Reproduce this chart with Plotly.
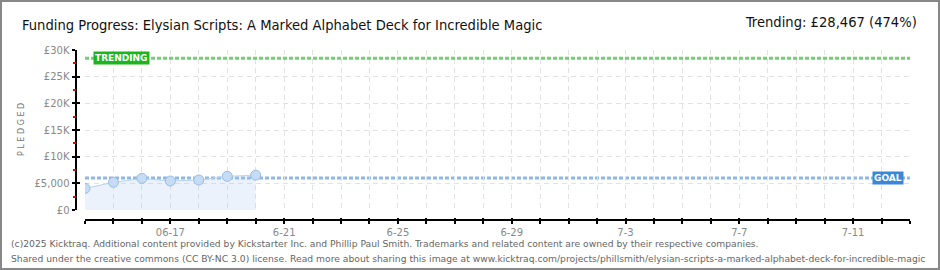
import plotly.graph_objects as go
import pandas as pd

# ---- data ----
dates = ["2025-06-14", "2025-06-15", "2025-06-16", "2025-06-17", "2025-06-18", "2025-06-19", "2025-06-20"]
pledged = [4060, 5180, 5930, 5440, 5625, 6310, 6530]
goal = 6006
trending = 28467
range_start = "2025-06-14"
range_end = "2025-07-13"
label_dates = ["2025-06-17", "2025-06-21", "2025-06-25", "2025-06-29", "2025-07-03", "2025-07-07", "2025-07-11"]
label_text = ["06-17", "6-21", "6-25", "6-29", "7-3", "7-7", "7-11"]
y_ticks = [0, 5000, 10000, 15000, 20000, 25000, 30000]
y_labels = ["£0", "£5,000", "£10K", "£15K", "£20K", "£25K", "£30K"]
y_minor = [2500, 7500, 12500, 17500, 22500, 27500]

title = "Funding Progress: Elysian Scripts: A Marked Alphabet Deck for Incredible Magic"
trend_text = "Trending: £28,467 (474%)"
footer1 = ("(c)2025 Kicktraq. Additional content provided by Kickstarter Inc. and Phillip Paul Smith. "
           "Trademarks and related content are owned by their respective companies.")
footer2 = ("Shared under the creative commons (CC BY-NC 3.0) license. Read more about sharing this image at "
           "www.kicktraq.com/projects/phillsmith/elysian-scripts-a-marked-alphabet-deck-for-incredible-magic")

# ---- geometry helpers (page pixels -> paper) ----
W, H = 940, 270
ML, MR, MT, MB = 70, 30, 45, 40
PW, PH = W - ML - MR, H - MT - MB
def px(x):
    return (x - ML) / PW
def py(y):
    return (H - MB - y) / PH

daily = pd.date_range(range_start, range_end, freq="D")
lab = dict(zip(pd.to_datetime(label_dates), label_text))
tickvals = list(daily)
ticktext = [lab.get(d, "") for d in daily]

TITLE_FONT = "DejaVu Sans Condensed, sans-serif"
SMALL_FONT = "DejaVu Sans, Verdana, sans-serif"

fig = go.Figure()

fig.add_trace(go.Scatter(
    x=dates, y=pledged, mode="lines+markers",
    line=dict(color="#b9d3f0", width=1),
    fill="tozeroy", fillcolor="rgba(175,205,242,0.25)",
    marker=dict(size=10, color="#c6dcf4", line=dict(color="#98bce6", width=1)),
    hoverinfo="x+y", showlegend=False, xaxis="x", yaxis="y",
))

# trending & goal lines
fig.add_shape(type="line", xref="x domain", yref="y", x0=0, x1=1, y0=trending, y1=trending,
              line=dict(color="#72cf72", width=3, dash="4px,2px"), layer="above")
fig.add_shape(type="line", xref="x domain", yref="y", x0=0, x1=1, y0=goal, y1=goal,
              line=dict(color="#8db7e5", width=3, dash="4px,2px"), layer="below")

# labels on lines
fig.add_annotation(xref="x domain", yref="y", x=(93 - 85) / 825, y=trending, xanchor="left", yanchor="middle",
                   text="<b>TRENDING</b>", showarrow=False, bgcolor="#1db51d", borderpad=1,
                   font=dict(family=SMALL_FONT, size=9, color="white"))
fig.add_annotation(xref="x domain", yref="y", x=(904 - 85) / 825, y=goal, xanchor="right", yanchor="middle",
                   text="<b>GOAL</b>", showarrow=False, bgcolor="#3a87d8", borderpad=1,
                   font=dict(family=SMALL_FONT, size=9, color="white"))

# title texts
fig.add_annotation(xref="paper", yref="paper", x=px(20), y=py(24), xanchor="left", yanchor="middle",
                   text=title, showarrow=False, font=dict(family=TITLE_FONT, size=14.6, color="#111"))
fig.add_annotation(xref="paper", yref="paper", x=px(919), y=py(22), xanchor="right", yanchor="middle",
                   text=trend_text, showarrow=False, font=dict(family=TITLE_FONT, size=14.6, color="#111"))

# y axis title
fig.add_annotation(xref="paper", yref="paper", x=px(21), y=py(130), xanchor="center", yanchor="middle",
                   text="P L E D G E D", textangle=-90, showarrow=False,
                   font=dict(family=SMALL_FONT, size=8, color="#777"))

# footer
fig.add_annotation(xref="paper", yref="paper", x=px(9), y=py(243), xanchor="left", yanchor="middle",
                   text=footer1, showarrow=False, font=dict(family=SMALL_FONT, size=9.2, color="#666"))
fig.add_annotation(xref="paper", yref="paper", x=px(9), y=py(258), xanchor="left", yanchor="middle",
                   text=footer2, showarrow=False, font=dict(family=SMALL_FONT, size=9.2, color="#666"))

# border
fig.add_shape(type="rect", xref="paper", yref="paper", x0=px(1), x1=px(939), y0=py(1), y1=py(269),
              line=dict(color="#888", width=2), fillcolor="rgba(0,0,0,0)", layer="above")

grid = dict(showgrid=True, gridcolor="#e2e2e2", gridwidth=1, griddash="5px,4px")
ydom = [py(210), py(50)]

fig.update_layout(
    width=W, height=H, margin=dict(l=ML, r=MR, t=MT, b=MB),
    paper_bgcolor="white", plot_bgcolor="white",
    xaxis=dict(domain=[px(85), 1], range=[range_start, range_end], type="date",
               anchor="free", position=py(219.5),
               tickmode="array", tickvals=tickvals, ticktext=ticktext,
               ticks="outside", ticklen=3, tickwidth=1.5, tickcolor="black",
               showline=True, linecolor="black", linewidth=2,
               tickfont=dict(family=SMALL_FONT, size=10, color="#888"),
               zeroline=False, **grid),
    xaxis2=dict(domain=[px(85), 1], range=[range_start, range_end], type="date", overlaying="x",
                anchor="free", position=py(219.5), matches="x",
                tickmode="array", tickvals=tickvals, ticktext=[""] * len(tickvals),
                ticks="inside", ticklen=2, tickwidth=1.5, tickcolor="black",
                showgrid=False, showline=False, zeroline=False),
    yaxis=dict(domain=ydom, range=[0, 30000],
               anchor="free", position=px(75.5),
               tickmode="array", tickvals=y_ticks, ticktext=y_labels,
               ticks="outside", ticklen=3, tickwidth=1.5, tickcolor="black",
               showline=True, linecolor="black", linewidth=2,
               tickfont=dict(family=SMALL_FONT, size=10, color="#888"),
               zeroline=False, **grid),
    yaxis2=dict(domain=ydom, range=[0, 30000], overlaying="y", matches="y",
                anchor="free", position=px(75.5),
                tickmode="array", tickvals=y_ticks, ticktext=[""] * len(y_ticks),
                ticks="inside", ticklen=3, tickwidth=1.5, tickcolor="black",
                showgrid=False, showline=False, zeroline=False),
    yaxis3=dict(domain=ydom, range=[0, 30000], overlaying="y", matches="y",
                anchor="free", position=px(75.5),
                tickmode="array", tickvals=y_minor, ticktext=[""] * len(y_minor),
                ticks="outside", ticklen=3, tickwidth=1.5, tickcolor="#e00",
                showgrid=False, showline=False, zeroline=False),
    hovermode="closest",
)

# invisible traces to activate the secondary axes
fig.add_trace(go.Scatter(x=[range_start], y=[0], xaxis="x2", yaxis="y2", mode="markers",
                         marker=dict(opacity=0), showlegend=False, hoverinfo="skip"))
fig.add_trace(go.Scatter(x=[range_start], y=[0], xaxis="x", yaxis="y3", mode="markers",
                         marker=dict(opacity=0), showlegend=False, hoverinfo="skip"))

fig.write_html("out.html")
